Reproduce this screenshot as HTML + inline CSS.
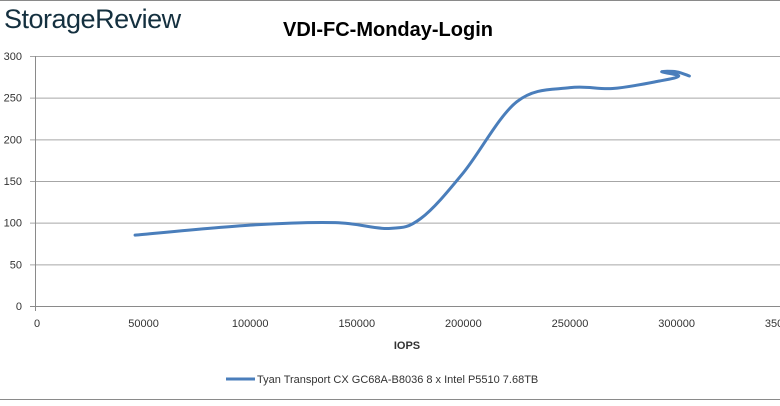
<!DOCTYPE html>
<html><head><meta charset="utf-8"><style>
body{margin:0;background:#fff;width:780px;height:401px;overflow:hidden;font-family:"Liberation Sans",sans-serif}
</style></head><body>
<svg width="780" height="401" xmlns="http://www.w3.org/2000/svg">
<line x1="0" y1="0.5" x2="780" y2="0.5" stroke="#8a8a8a"/>
<line x1="0" y1="399.5" x2="780" y2="399.5" stroke="#8a8a8a"/>
<text x="4" y="28" font-size="27" fill="#14303f" font-family="Liberation Sans, sans-serif" letter-spacing="-0.5">StorageReview</text>
<text x="388" y="36" font-size="20" font-weight="bold" text-anchor="middle" fill="#000">VDI-FC-Monday-Login</text>
<g id="grid"></g><g id="axes"></g><g id="series"></g>
<text x="407" y="349" font-size="11" font-weight="bold" text-anchor="middle" fill="#333">IOPS</text>
<line x1="226" y1="379" x2="255" y2="379" stroke="#4a7ebb" stroke-width="3"/>
<text x="257" y="383" font-size="11" fill="#333">Tyan Transport CX GC68A-B8036 8 x Intel P5510 7.68TB</text>
</svg>
<script>
const xTicks=[0,50000,100000,150000,200000,250000,300000,350000];
const xTickLabels=["0","50000","100000","150000","200000","250000","300000","350000"];
const yTicks=[0,50,100,150,200,250,300];
const iops=[46000,100000,140000,165000,180000,200000,225000,250000,270000,292000,301000,293000,300000,306000];
const latency=[85,97,100,93,105,160,245,262,261,270,276,281,281,276];
const X=v=>37+v*106.6/50000, Y=v=>306-v*250/300;
const ns="http://www.w3.org/2000/svg";
function mk(t,a,p){const e=document.createElementNS(ns,t);for(const k in a)e.setAttribute(k,a[k]);p.appendChild(e);return e;}
const grid=document.getElementById('grid'),axes=document.getElementById('axes'),ser=document.getElementById('series');
yTicks.forEach((v,i)=>{
 const l=mk('line',{x1:30,x2:780,y1:Y(v)+0.5,y2:Y(v)+0.5,stroke:v===0?'#8a8a8a':'#a6a6a6'},grid);
 
 
 const t=mk('text',{x:22,y:Y(v)+4,'font-size':11,'text-anchor':'end',fill:'#333'},axes);
 t.textContent=v;
 
 
});
const ax=mk('line',{x1:35.5,x2:35.5,y1:Y(300),y2:Y(0)+5,stroke:'#8a8a8a'},axes);


xTicks.forEach((v,i)=>{
 const t=mk('text',{x:X(v),y:327,'font-size':11,'text-anchor':'middle',fill:'#333'},axes);
 t.textContent=xTickLabels[i];
 
 
});
const P=iops.map((v,i)=>[X(v),Y(latency[i])]);
let d='M'+P[0][0]+','+P[0][1];
for(let i=0;i<P.length-1;i++){
 const p0=P[Math.max(0,i-1)],p1=P[i],p2=P[i+1],p3=P[Math.min(P.length-1,i+2)];
 const t=0.17;
 d+=` C${p1[0]+(p2[0]-p0[0])*t},${p1[1]+(p2[1]-p0[1])*t} ${p2[0]-(p3[0]-p1[0])*t},${p2[1]-(p3[1]-p1[1])*t} ${p2[0]},${p2[1]}`;
}
const path=mk('path',{d:d,fill:'none',stroke:'#4a7ebb','stroke-width':3,'stroke-linejoin':'round','stroke-linecap':'round'},ser);


</script>
</body></html>
